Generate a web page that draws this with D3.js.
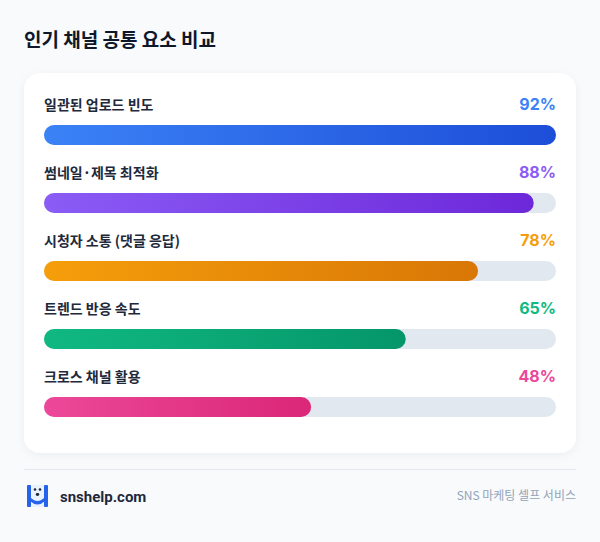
<!DOCTYPE html>
<html>
<head>
<meta charset="utf-8">
<script src="https://cdn.jsdelivr.net/npm/d3@7"></script>
<style>
  html, body { margin: 0; padding: 0; background: #f8fafc; }
  svg { display: block; font-family: "Noto Sans CJK KR", "Noto Sans", sans-serif; }
</style>
</head>
<body>
<svg id="chart"></svg>
<script>
// chart data
const categories = ["일관된 업로드 빈도", "썸네일·제목 최적화", "시청자 소통 (댓글 응답)", "트렌드 반응 속도", "크로스 채널 활용"];
const values = [92, 88, 78, 65, 48];
const colorStart = ["#3b82f6", "#8b5cf6", "#f59e0b", "#10b981", "#ec4899"];
const colorEnd = ["#1d4ed8", "#6d28d9", "#d97706", "#059669", "#db2777"];
const title = "인기 채널 공통 요소 비교";
const brand = "snshelp.com";
const tagline = "SNS 마케팅 셀프 서비스";

const W = 600, H = 542;
const card = {x: 24, y: 73, w: 552, h: 380};
const barX0 = 44, barX1 = 556, barH = 20;

const svg = d3.select("#chart").attr("width", W).attr("height", H);
const defs = svg.append("defs");

// card shadow
const filt = defs.append("filter").attr("id", "shadow")
	.attr("x", "-10%").attr("y", "-10%").attr("width", "120%").attr("height", "120%");
filt.append("feDropShadow").attr("dx", 0).attr("dy", 2).attr("stdDeviation", 4)
	.attr("flood-color", "#0f172a").attr("flood-opacity", 0.05);

svg.append("rect").attr("width", W).attr("height", H).attr("fill", "#f8fafc");

// title
svg.append("text")
	.attr("x", 24).attr("y", 47)
	.attr("font-size", 19).attr("font-weight", 700)
	.attr("fill", "#0f172a")
	.text(title);

// card
svg.append("rect")
	.attr("x", card.x).attr("y", card.y)
	.attr("width", card.w).attr("height", card.h)
	.attr("rx", 16)
	.attr("fill", "#ffffff")
	.attr("filter", "url(#shadow)");

// scales : bar length is relative to the biggest value
const x = d3.scaleLinear()
	.domain([0, d3.max(values)])
	.range([0, barX1 - barX0]);

const y = d3.scaleBand()
	.domain(categories)
	.range([card.y + 13, card.y + 13 + 68 * categories.length])
	.paddingInner(0);

// gradients
categories.forEach((c, i) => {
	const g = defs.append("linearGradient").attr("id", "grad" + i)
		.attr("x1", "0%").attr("x2", "100%").attr("y1", "0%").attr("y2", "0%");
	g.append("stop").attr("offset", "0%").attr("stop-color", colorStart[i]);
	g.append("stop").attr("offset", "100%").attr("stop-color", colorEnd[i]);
});

const rows = svg.append("g").selectAll("g")
	.data(categories)
	.join("g")
	.attr("transform", d => `translate(0, ${y(d)})`);

// label
rows.append("text")
	.attr("x", barX0).attr("y", 24)
	.attr("font-size", 14).attr("font-weight", 600)
	.attr("fill", "#1e293b")
	.text(d => d);

// value
rows.append("text")
	.attr("x", barX1).attr("y", 24)
	.attr("text-anchor", "end")
	.attr("font-family", "Inter, sans-serif")
	.attr("font-size", 16).attr("font-weight", 700)
	.attr("fill", (d, i) => colorStart[i])
	.text((d, i) => values[i] + "%");

// track
rows.append("rect")
	.attr("x", barX0).attr("y", 39)
	.attr("width", barX1 - barX0).attr("height", barH)
	.attr("rx", barH / 2)
	.attr("fill", "#e2e8f0");

// bar
rows.append("rect")
	.attr("x", barX0).attr("y", 39)
	.attr("width", (d, i) => x(values[i])).attr("height", barH)
	.attr("rx", barH / 2)
	.attr("fill", (d, i) => `url(#grad${i})`);

// footer
svg.append("line")
	.attr("x1", 24).attr("x2", 576)
	.attr("y1", 469.5).attr("y2", 469.5)
	.attr("stroke", "#e2e8f0").attr("stroke-width", 1);

// logo
const logo = svg.append("g").attr("transform", "translate(27, 485)");
logo.append("rect").attr("x", 0).attr("y", 0).attr("width", 21).attr("height", 22).attr("rx", 2).attr("fill", "#dbeafe").attr("opacity", 0.5);
logo.append("rect").attr("x", 0).attr("y", 0).attr("width", 4).attr("height", 22).attr("rx", 1).attr("fill", "#2563eb");
logo.append("rect").attr("x", 17).attr("y", 0).attr("width", 4).attr("height", 22).attr("rx", 1).attr("fill", "#2563eb");
logo.append("path")
	.attr("d", "M3,12 Q10.5,20 18,12 L18,16 Q10.5,23 3,16 Z")
	.attr("fill", "#2563eb");
logo.append("circle").attr("cx", 8).attr("cy", 4.5).attr("r", 1.3).attr("fill", "#1e293b");
logo.append("circle").attr("cx", 13).attr("cy", 4.5).attr("r", 1.3).attr("fill", "#1e293b");
logo.append("ellipse").attr("cx", 10.5).attr("cy", 9.5).attr("rx", 1.8).attr("ry", 1.4).attr("fill", "#1e293b");

svg.append("text")
	.attr("x", 60).attr("y", 502)
	.attr("font-family", "Roboto, sans-serif")
	.attr("font-size", 15).attr("font-weight", 700)
	.attr("fill", "#1e293b")
	.text(brand);

svg.append("text")
	.attr("x", 576).attr("y", 500)
	.attr("text-anchor", "end")
	.attr("font-size", 12).attr("font-weight", 400)
	.attr("fill", "#94a3b8")
	.text(tagline);
</script>
</body>
</html>
